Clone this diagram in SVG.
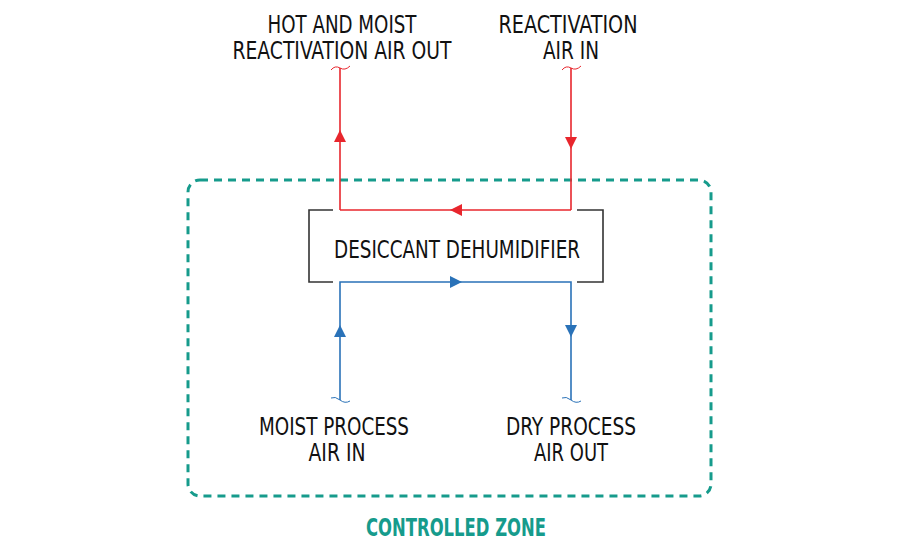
<svg xmlns="http://www.w3.org/2000/svg" width="900" height="550" viewBox="0 0 900 550">
<style>
.lbl{font-family:"DejaVu Sans Condensed","Roboto","Liberation Sans",sans-serif;font-size:25px;fill:#111;text-anchor:middle}
.red{stroke:#e8262d;stroke-width:1.6;fill:none}
.blue{stroke:#2a72b8;stroke-width:1.6;fill:none}
.tilde{stroke-width:1;fill:none}
</style>
<defs>
<marker id="ar" viewBox="0 0 12 12" refX="12" refY="6" markerWidth="12" markerHeight="12" markerUnits="userSpaceOnUse" orient="auto"><path d="M0,0 L12,6 L0,12 Z" fill="#e8262d"/></marker>
<marker id="ab" viewBox="0 0 12 12" refX="12" refY="6" markerWidth="12" markerHeight="12" markerUnits="userSpaceOnUse" orient="auto"><path d="M0,0 L12,6 L0,12 Z" fill="#2a72b8"/></marker>
</defs>
<rect width="900" height="550" fill="#fff"/>
<g id="zone">
<rect x="188" y="180" width="523" height="316" rx="12" fill="none" stroke="#169b8c" stroke-width="3" stroke-dasharray="8,6"/>
<text x="456" y="536" font-family="'DejaVu Sans Condensed','Roboto','Liberation Sans',sans-serif" font-size="25" font-weight="bold" fill="#169b8c" text-anchor="middle" textLength="180" lengthAdjust="spacingAndGlyphs">CONTROLLED ZONE</text>
</g>
<g id="dehumidifier">
<path d="M333,210 H309 V282 H333 M577,210 H603 V282 H577" fill="none" stroke="#333" stroke-width="1.6"/>
<text class="lbl" x="457" y="258" font-size="28" textLength="246" lengthAdjust="spacingAndGlyphs">DESICCANT DEHUMIDIFIER</text>
</g>
<g id="reactivation-out">
<text class="lbl" x="342" y="33" textLength="149" lengthAdjust="spacingAndGlyphs">HOT AND MOIST</text>
<text class="lbl" x="342" y="59" textLength="219" lengthAdjust="spacingAndGlyphs">REACTIVATION AIR OUT</text>
</g>
<g id="reactivation-in">
<text class="lbl" x="568" y="33" textLength="139" lengthAdjust="spacingAndGlyphs">REACTIVATION</text>
<text class="lbl" x="571" y="59" textLength="56" lengthAdjust="spacingAndGlyphs">AIR IN</text>
</g>
<g id="process-in">
<text class="lbl" x="334" y="435" textLength="150" lengthAdjust="spacingAndGlyphs">MOIST PROCESS</text>
<text class="lbl" x="337" y="461" textLength="57" lengthAdjust="spacingAndGlyphs">AIR IN</text>
</g>
<g id="process-out">
<text class="lbl" x="571" y="435" textLength="130" lengthAdjust="spacingAndGlyphs">DRY PROCESS</text>
<text class="lbl" x="571" y="461" textLength="74" lengthAdjust="spacingAndGlyphs">AIR OUT</text>
</g>
<g id="connectors">
<path class="red" d="M340,210 V130" marker-end="url(#ar)"/>
<path class="red" d="M340,130 V68"/>
<path class="red" d="M571,210 H450" marker-end="url(#ar)"/>
<path class="red" d="M450,210 H340"/>
<path class="red" d="M571,68 V149" marker-end="url(#ar)"/>
<path class="red" d="M571,149 V210"/>
<path class="red tilde" d="M331,70 Q335,65 340,68 Q345,71 350,66"/>
<path class="red tilde" d="M562,70 Q566,65 571,68 Q576,71 581,66"/>
<path class="blue" d="M340,400 V325" marker-end="url(#ab)"/>
<path class="blue" d="M340,325 V282 H462" marker-end="url(#ab)"/>
<path class="blue" d="M462,282 H571 V337" marker-end="url(#ab)"/>
<path class="blue" d="M571,337 V400"/>
<path class="blue tilde" d="M331,398 Q335,396 340,400 Q345,404 350,401"/>
<path class="blue tilde" d="M562,398 Q566,396 571,400 Q576,404 581,401"/>
</g>
</svg>
